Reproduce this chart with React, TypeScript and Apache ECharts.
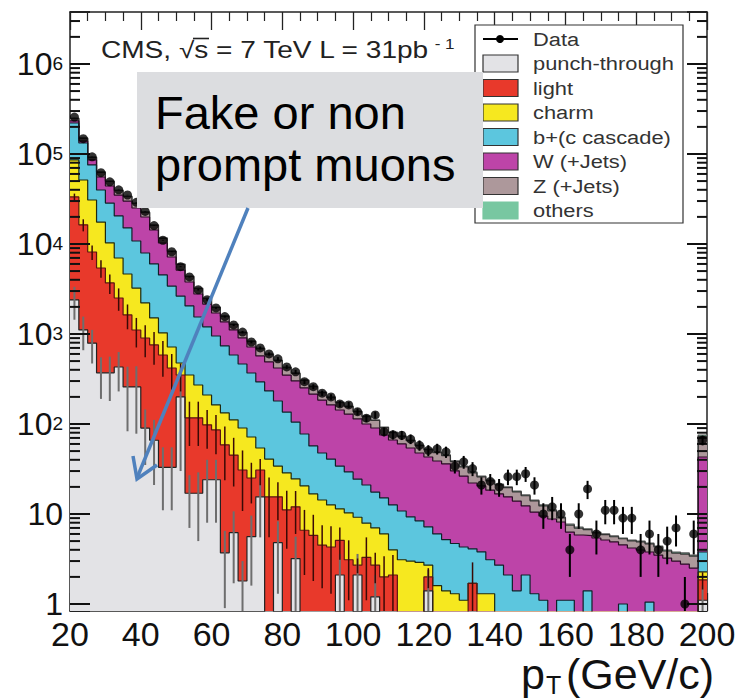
import React, { useEffect, useRef } from "react";
import * as echarts from "echarts";

const BIN_START = 20;
const BIN_WIDTH = 2.5;
const X_MIN = 20;
const X_MAX = 200;
const Y_MIN = 0.836;
const Y_MAX = 3.78e6;

const xTickLabels = [20, 40, 60, 80, 100, 120, 140, 160, 180, 200];

const seriesNames = ["punch-through", "light", "charm", "b+(c cascade)", "W (+Jets)", "Z (+Jets)", "others"];
const seriesColors = ["#e3e3e6", "#e8392b", "#f6e81f", "#5cc6de", "#bd44a8", "#ad989b", "#78c7a1"];
const outlineColors = ["#222222", "#5a1610", "#1f2a10", "#102028", "#2a0a24", "#333333", "#555555"];

// events per 2.5 GeV bin, 20 -> 200 GeV (last bin = overflow)
const punchThrough = [
  2390, 1110, 790, 370, 370, 430, 258, 258, 90, 66,
  33, 33, 200, 17, 17, 24, 24, 3.7, 6.2, 1.8,
  5.6, 15.5, 0, 4.8, 0, 3.2, 0, 0, 0, 0,
  2.1, 0, 2.1, 0, 1.2, 0, 0, 0, 0, 0,
  1.4, 0, 0, 0, 0, 0, 0, 0, 0, 0,
  0, 0, 0, 0, 0, 0, 0, 0, 0, 0,
  0, 0, 0, 0, 0, 0, 0, 0, 0, 0,
  0, 1.1,
];
const punchThroughErr = [
  950, 450, 320, 180, 190, 200, 175, 180, 55, 45,
  22, 22, 170, 10, 12, 16, 16, 2.8, 4.5, 1.2,
  4, 10, 0, 3.5, 0, 2.4, 0, 0, 0, 0,
  1.5, 0, 1.5, 0, 0.9, 0, 0, 0, 0, 0,
  1, 0, 0, 0, 0, 0, 0, 0, 0, 0,
  0, 0, 0, 0, 0, 0, 0, 0, 0, 0,
  0, 0, 0, 0, 0, 0, 0, 0, 0, 0,
  0, 0.5,
];
const light = [
  30900, 15200, 7360, 5040, 3320, 2080, 1370, 850, 813, 689,
  551, 386, 150, 100, 100, 74, 62, 55, 39, 29,
  19.5, 15.3, 15.5, 10.7, 11.1, 8.8, 6.6, 5.8, 4.5, 4.3,
  3.0, 3.1, 0.6, 3.3, 1.5, 2.0, 2.1, 0, 0, 0,
  0.6, 0, 0, 0, 0, 1.7, 0, 0, 0, 0,
  0, 0, 0, 0, 0, 0, 0, 0, 0, 0,
  0, 0, 0, 0, 0, 0, 0, 0, 0, 0,
  0, 0.75,
];
const lightErr = [
  3000, 2500, 1500, 1200, 900, 700, 500, 400, 350, 300,
  250, 180, 120, 60, 60, 45, 40, 35, 25, 20,
  12, 10, 10, 7, 7, 6, 4.5, 4, 3, 3,
  2, 2, 0.5, 2.2, 1, 1.4, 1.4, 0, 0, 0,
  0.5, 0, 0, 0, 0, 1.2, 0, 0, 0, 0,
  0, 0, 0, 0, 0, 0, 0, 0, 0, 0,
  0, 0, 0, 0, 0, 0, 0, 0, 0, 0,
  0, 0.4,
];
const charm = [
  52500, 35100, 22650, 12100, 6610, 4480, 3010, 2130, 1310, 755,
  446, 298, 126, 233, 154, 112, 77, 74, 66, 59.5,
  46.6, 23.3, 25.3, 18.6, 17.5, 12.5, 13.9, 10.9, 9.8, 8.3,
  6.3, 7.2, 6.5, 4.6, 4.3, 4.0, 1.9, 3.1, 3.0, 2.9,
  0.7, 1.6, 1.4, 1.3, 1.1, 0, 1.3, 1.3, 0, 0,
  0, 0, 0, 0, 0, 0, 0, 0, 0.2, 0,
  0, 0, 0, 0, 0, 0, 0, 0, 0, 0,
  0, 0.42,
];
const bCascade = [
  135000, 81000, 44700, 22300, 18200, 13500, 10460, 7560, 5730, 4490,
  3500, 2690, 2160, 1700, 1274, 990, 787, 604, 473, 374,
  297, 239, 192, 146, 107, 80.5, 56.9, 40.3, 33.3, 28.2,
  22.7, 19, 15.2, 13.1, 10.5, 9.1, 8.6, 7.7, 6.3, 5.5,
  4.5, 4.4, 3.8, 3.4, 3.2, 2.4, 2.5, 1.8, 2.7, 2.1,
  1.4, 2.1, 1.3, 1.1, 0, 1.1, 1.1, 0, 1.2, 0,
  0, 0, 1.0, 0, 0, 1.05, 0, 0, 0, 0,
  0, 1.51,
];
const wJets = [
  12000, 7000, 10300, 15700, 15600, 14500, 14900, 14300, 12000, 8300,
  5730, 3760, 2500, 1730, 1235, 950, 760, 624, 526, 439,
  348, 277, 256, 239, 214, 196, 174, 158, 137, 122,
  109, 99.7, 89.5, 79, 72.8, 60.4, 53.8, 49.2, 44.8, 39.2,
  35.8, 32.8, 30.9, 25.5, 22.1, 18, 16.7, 15.3, 14, 13.4,
  12.5, 10.2, 9.2, 8.4, 8.8, 7.05, 5.2, 5.84, 4.34, 5.41,
  5.14, 4.89, 3.53, 4.19, 3.98, 2.73, 3.5, 3.24, 3.0, 2.78,
  2.51, 39.2,
];
const zJets = [
  15000, 9500, 5700, 6840, 5400, 4300, 3700, 3060, 2480, 1800,
  1270, 1090, 790, 575, 420, 330, 260, 205, 165, 134,
  109, 119, 103, 88, 74, 63, 53, 45, 39, 34,
  29, 27, 23, 21, 19, 15.7, 13.8, 12.4, 11.2, 9.8,
  8.8, 9.2, 8.5, 7.9, 7, 6.6, 5.4, 4.9, 4.4, 4.1,
  3.7, 3.65, 3.5, 2.8, 2.05, 0.9, 1.2, 1.1, 0.95, 0.75,
  0.75, 0.7, 0.78, 0.85, 0.93, 0.88, 0.81, 0.64, 0.68, 0.81,
  0.89, 30,
];
const others = [
  3000, 1800, 1100, 760, 600, 480, 400, 340, 270, 200,
  140, 100, 70, 55, 40, 30, 25, 20, 15, 13,
  10, 9, 8, 7, 6, 5, 4, 4, 3, 3,
  3, 2, 2, 2, 1.7, 1.4, 1.3, 1.2, 1.1, 1.0,
  0.9, 0.9, 0.8, 0.8, 0.7, 0.6, 0.5, 0.5, 0.4, 0.4,
  0.4, 0.35, 0.3, 0.3, 0.25, 0.2, 0.2, 0.2, 0.15, 0.15,
  0.11, 0.11, 0.1, 0.1, 0.1, 0.1, 0.1, 0.1, 0.1, 0.1,
  0.1, 2.5,
];
const dataCounts = [
  257000, 148000, 93000, 62000, 49000, 40000, 35000, 29000, 23000, 16000,
  11000, 8200, 5600, 4300, 3100, 2400, 1950, 1560, 1260, 1050,
  815, 700, 600, 530, 430, 380, 295, 260, 220, 200,
  167, 163, 137, 116, 126, 82, 76, 75, 68, 58,
  51, 53, 49, 34, 38, 32, 21, 23, 20, 26,
  26, 28, 21, 10, 12, 10, 4, 10, 19, 6,
  11, 11, 9, 9, 4, 6, 4, 5, 7, 1,
  6, 66,
];

const FONT = "'Liberation Sans', Arial, Helvetica, sans-serif";

export default function App() {
  const ref = useRef<HTMLDivElement>(null);

  useEffect(() => {
    document.body.style.margin = "0";
    const el = ref.current;
    if (!el) return;
    const chart = echarts.init(el, null, { renderer: "svg" });

    const components = [punchThrough, light, charm, bCascade, wJets, zJets, others];
    const nBins = dataCounts.length;
    const edges = Array.from({ length: nBins }, (_, i) => BIN_START + BIN_WIDTH * i);
    const centers = edges.map((e) => e + BIN_WIDTH / 2);
    const cum: number[][] = [];
    components.forEach((arr, k) => {
      cum.push(arr.map((v, i) => (k === 0 ? 0 : cum[k - 1][i]) + v));
    });
    const safe = (v: number) => (v > 0 ? v : 1e-3);
    const stepData = (vals: number[]) => {
      const pts: number[][] = vals.map((v, i) => [edges[i], safe(v)]);
      pts.push([X_MAX, safe(vals[vals.length - 1])]);
      return pts;
    };

    const stackSeries: any[] = [];
    for (let k = components.length - 1; k >= 0; k--) {
      stackSeries.push({
        type: "line",
        name: seriesNames[k],
        step: "end",
        symbol: "none",
        data: stepData(cum[k]),
        lineStyle: { color: outlineColors[k], width: 1.2 },
        areaStyle: { color: seriesColors[k], opacity: 1 },
        clip: true,
        silent: true,
        z: 2,
      });
    }

    const errSeries = (name: string, tops: number[], errs: number[], color: string, width: number, z: number) => ({
      type: "custom",
      name,
      silent: true,
      clip: true,
      z,
      data: tops
        .map((t, i) => [centers[i], Math.max(t - errs[i], 1e-3), t + errs[i], errs[i]])
        .filter((d) => d[3] > 0),
      renderItem: (_p: any, api: any) => {
        const x = api.value(0);
        const lo = api.coord([x, api.value(1)]);
        const hi = api.coord([x, api.value(2)]);
        return {
          type: "line",
          shape: { x1: lo[0], y1: lo[1], x2: hi[0], y2: hi[1] },
          style: { stroke: color, lineWidth: width },
        };
      },
    });

    // y ticks drawn above the histograms (ROOT style): [anchor x, value, tick length px]
    const yTickData: number[][] = [];
    for (let k = 0; k <= 6; k++) {
      yTickData.push([centers[1], Math.pow(10, k), 20]);
      for (let m = 2; m <= 9; m++) {
        const v = m * Math.pow(10, k);
        if (v < Y_MAX) yTickData.push([centers[1], v, 10]);
      }
    }

    const axisColor = "#222";

    const legendItems: any[] = [
      {
        type: "rect",
        z: 20,
        shape: { x: 475, y: 25, width: 208, height: 198 },
        style: { fill: "#fff", stroke: "#333", lineWidth: 1.2 },
      },
      { type: "line", z: 21, shape: { x1: 483, y1: 39, x2: 518, y2: 39 }, style: { stroke: "#000", lineWidth: 2 } },
      { type: "circle", z: 21, shape: { cx: 500, cy: 39, r: 4 }, style: { fill: "#000" } },
      {
        type: "text", z: 21, x: 533, y: 39, scaleX: 1.15,
        style: { text: "Data", fontSize: 19, fontFamily: FONT, fill: "#333", verticalAlign: "middle" },
      },
    ];
    seriesNames.forEach((name, k) => {
      legendItems.push({
        type: "rect",
        z: 21,
        shape: { x: 483, y: 55 + 24.5 * k, width: 35, height: 17 },
        style: { fill: seriesColors[k], stroke: k === 6 ? seriesColors[k] : "#333", lineWidth: 1.2 },
      });
      legendItems.push({
        type: "text",
        z: 21,
        x: 533,
        y: 63.5 + 24.5 * k,
        scaleX: 1.15,
        style: { text: name, fontSize: 19, fontFamily: FONT, fill: "#333", verticalAlign: "middle" },
      });
    });

    const option: any = {
      animation: false,
      backgroundColor: "#ffffff",
      grid: { left: 70, right: 33, top: 12, bottom: 87, containLabel: false },
      xAxis: [
        {
          type: "value",
          min: X_MIN,
          max: X_MAX,
          interval: 20,
          position: "bottom",
          axisLine: { show: true, onZero: false, lineStyle: { color: axisColor, width: 1.5 } },
          axisTick: { show: true, inside: true, length: 18, lineStyle: { color: axisColor, width: 1.3 } },
          minorTick: { show: true, splitNumber: 4, length: 9, lineStyle: { color: axisColor, width: 1.2 } },
          splitLine: { show: false },
          axisLabel: {
            fontSize: 34,
            lineHeight: 30,
            color: "#111",
            margin: 8,
            fontFamily: FONT,
            formatter: (v: number) => (xTickLabels.indexOf(v) >= 0 ? String(v) : ""),
          },
        },
        {
          type: "value",
          min: X_MIN,
          max: X_MAX,
          interval: 20,
          position: "top",
          axisLine: { show: true, onZero: false, lineStyle: { color: axisColor, width: 1.5 } },
          axisTick: { show: true, inside: true, length: 18, lineStyle: { color: axisColor, width: 1.3 } },
          minorTick: { show: true, splitNumber: 4, length: 9, lineStyle: { color: axisColor, width: 1.2 } },
          splitLine: { show: false },
          axisLabel: { show: false },
        },
      ],
      yAxis: [
        {
          type: "log",
          logBase: 10,
          min: Y_MIN,
          max: Y_MAX,
          position: "left",
          axisLine: { show: true, onZero: false, lineStyle: { color: axisColor, width: 1.5 } },
          axisTick: { show: true, inside: true, length: 20, lineStyle: { color: axisColor, width: 2 } },
          splitLine: { show: false },
          axisLabel: {
            margin: 7,
            fontSize: 32,
            color: "#111",
            fontFamily: FONT,
            formatter: (value: number) => {
              const lg = Math.log10(value);
              const e = Math.round(lg);
              if (Math.abs(lg - e) > 1e-6) return "";
              if (e === 0) return "{b|1}";
              if (e === 1) return "{b|10}";
              return "{b|10}{s|" + e + "}";
            },
            rich: {
              b: { fontSize: 32, lineHeight: 20, fontFamily: FONT, color: "#111" },
              s: { fontSize: 19, lineHeight: 12, verticalAlign: "top", fontFamily: FONT, color: "#111" },
            },
          },
        },
        {
          type: "log",
          logBase: 10,
          min: Y_MIN,
          max: Y_MAX,
          position: "right",
          axisLine: { show: true, onZero: false, lineStyle: { color: axisColor, width: 1.5 } },
          axisTick: { show: true, inside: true, length: 20, lineStyle: { color: axisColor, width: 2 } },
          splitLine: { show: false },
          axisLabel: { show: false },
        },
      ],
      series: [
        ...stackSeries,
        errSeries("punch-through unc.", cum[0], punchThroughErr, "#6e6e6e", 2, 6),
        errSeries("light unc.", cum[1], lightErr, "#3a0a06", 1.5, 6),
        {
          type: "custom",
          name: "y ticks",
          silent: true,
          clip: false,
          z: 7,
          data: yTickData,
          renderItem: (_p: any, api: any) => {
            const v = api.value(1);
            const len = api.value(2);
            const a = api.coord([X_MIN, v]);
            const b = api.coord([X_MAX, v]);
            return {
              type: "group",
              children: [
                { type: "line", shape: { x1: a[0], y1: a[1], x2: a[0] + len, y2: a[1] }, style: { stroke: "#111", lineWidth: 2 } },
                { type: "line", shape: { x1: b[0] - len, y1: b[1], x2: b[0], y2: b[1] }, style: { stroke: "#111", lineWidth: 2 } },
              ],
            };
          },
        },
        {
          type: "custom",
          name: "Data errors",
          silent: true,
          clip: true,
          z: 9,
          data: dataCounts.map((v, i) => {
            const err = Math.sqrt(v);
            return [centers[i], Math.max(v - err, 1e-3), v + err];
          }),
          renderItem: (_p: any, api: any) => {
            const x = api.value(0);
            const lo = api.coord([x, api.value(1)]);
            const hi = api.coord([x, api.value(2)]);
            return {
              type: "line",
              shape: { x1: lo[0], y1: lo[1], x2: hi[0], y2: hi[1] },
              style: { stroke: "#000", lineWidth: 2 },
            };
          },
        },
        {
          type: "scatter",
          name: "Data",
          symbol: "circle",
          symbolSize: 9,
          silent: true,
          z: 10,
          itemStyle: { color: "#000" },
          data: dataCounts.map((v, i) => [centers[i], v]),
        },
      ],
      graphic: [
        // CMS label
        {
          type: "text",
          x: 101,
          y: 50,
          scaleX: 1.22,
          z: 20,
          style: {
            text: "{t|CMS, √s = 7 TeV L = 31pb}{u| - 1}",
            verticalAlign: "middle",
            rich: {
              t: { fontSize: 23, fontFamily: FONT, fill: "#222", lineHeight: 26 },
              u: { fontSize: 14, fontFamily: FONT, fill: "#222", verticalAlign: "top", lineHeight: 14 },
            },
          },
        },
        { type: "line", z: 20, shape: { x1: 193, y1: 38.5, x2: 209, y2: 38.5 }, style: { stroke: "#222", lineWidth: 1.6 } },
        ...legendItems,
        // callout
        {
          type: "rect",
          z: 30,
          shape: { x: 137, y: 72, width: 346, height: 136 },
          style: { fill: "#dcdde0" },
        },
        {
          type: "text",
          z: 31,
          x: 155,
          y: 86,
          style: {
            text: "Fake or non\nprompt muons",
            fontSize: 47,
            lineHeight: 52,
            fontFamily: FONT,
            fill: "#000",
          },
        },
        {
          type: "line",
          z: 31,
          shape: { x1: 248, y1: 208, x2: 137, y2: 478 },
          style: { stroke: "#4f81bd", lineWidth: 3.5 },
        },
        {
          type: "polyline",
          z: 31,
          shape: { points: [[133, 456], [137, 479], [157, 465]] },
          style: { stroke: "#4f81bd", lineWidth: 3.5, fill: null },
        },
        // x axis title
        { type: "text", z: 20, x: 521, y: 674, style: { text: "p", fontSize: 43, fontFamily: FONT, fill: "#111", verticalAlign: "middle" } },
        { type: "text", z: 20, x: 546, y: 685, style: { text: "T", fontSize: 25, fontFamily: FONT, fill: "#111", verticalAlign: "middle" } },
        { type: "text", z: 20, x: 566, y: 674, style: { text: "(GeV/c)", fontSize: 43, fontFamily: FONT, fill: "#111", verticalAlign: "middle" } },
      ],
    };
    chart.setOption(option);
    return () => chart.dispose();
  }, []);

  return <div ref={ref} style={{ width: 740, height: 698 }} />;
}
